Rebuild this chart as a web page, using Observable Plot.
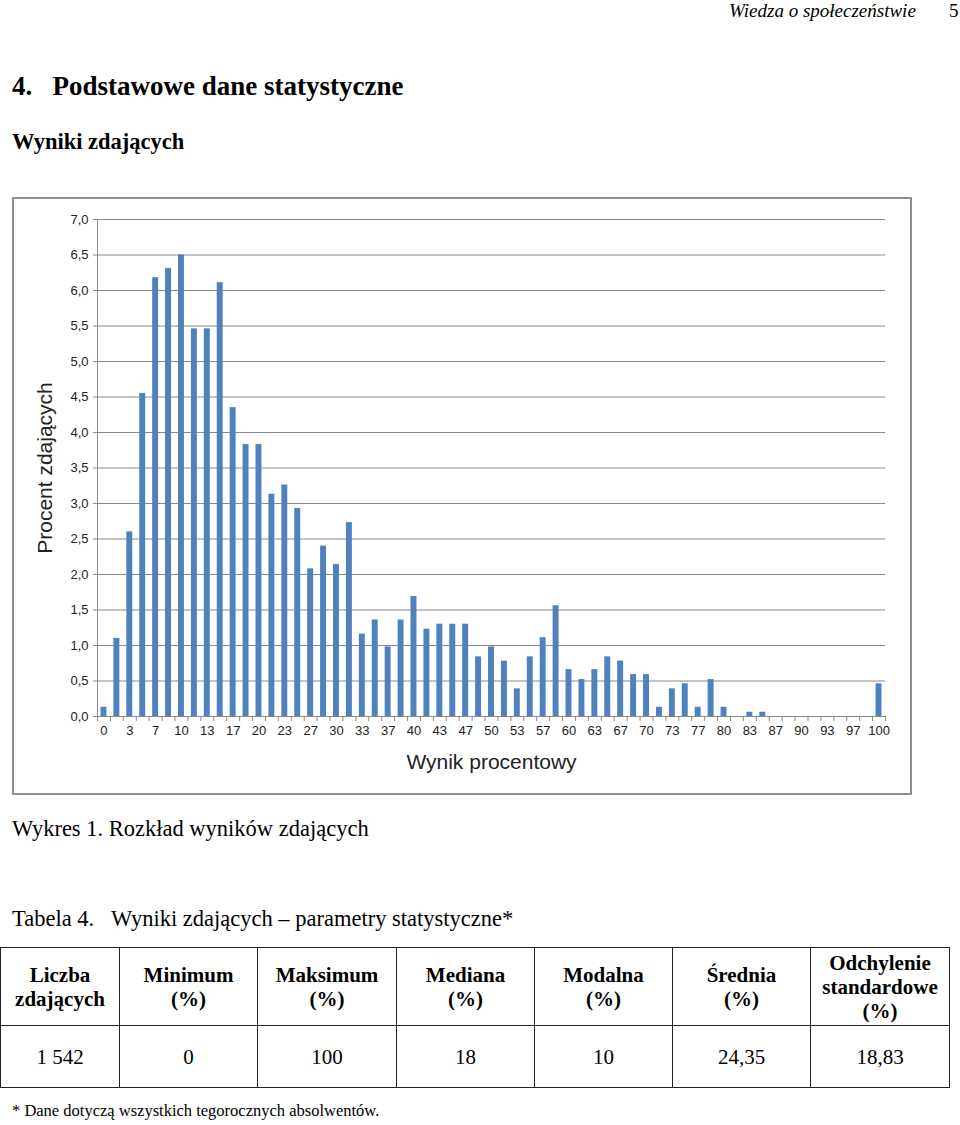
<!DOCTYPE html>
<html>
<head>
<meta charset="utf-8">
<script src="https://cdn.jsdelivr.net/npm/d3@7"></script>
<script src="https://cdn.jsdelivr.net/npm/@observablehq/plot@0.6"></script>
<style>
  body { margin: 0; background: #fff; width: 960px; height: 1125px; position: relative; overflow: hidden; font-family: "Liberation Serif", "Times New Roman", serif; color: #000; }
  .abs { position: absolute; white-space: nowrap; }
  #chartbox { position: absolute; left: 12px; top: 197px; width: 896px; height: 594px; border: 2px solid #8e8e8e; background: #fff; }
  #chartbox svg { position: absolute; left: 0; top: 0; }
  table { position: absolute; left: 0; top: 947px; border-collapse: collapse; table-layout: fixed; width: 949px; }
  td { border: 1.5px solid #222; text-align: center; vertical-align: middle; padding: 0; font-size: 21px; line-height: 24px; }
  tr.h td { height: 77px; font-weight: bold; }
  tr.d td { height: 61px; }
</style>
</head>
<body>
<div class="abs" style="left:729px; top:1px; font-size:19px; line-height:20px; font-style:italic;">Wiedza o społeczeństwie</div>
<div class="abs" style="left:949px; top:1px; font-size:19px; line-height:20px;">5</div>
<div class="abs" style="left:12px; top:71px; font-size:27px; font-weight:bold;">4.&nbsp;&nbsp;&nbsp;Podstawowe dane statystyczne</div>
<div class="abs" style="left:12px; top:129px; font-size:22.5px; font-weight:bold;">Wyniki zdających</div>
<div id="chartbox"></div>
<div class="abs" style="left:12px; top:816px; font-size:22.5px;">Wykres 1. Rozkład wyników zdających</div>
<div class="abs" style="left:12px; top:906px; font-size:22.5px;">Tabela 4.&nbsp;&nbsp;&nbsp;Wyniki zdających – parametry statystyczne*</div>
<table id="tbl"></table>
<div class="abs" style="left:12px; top:1101px; font-size:16.5px;">* Dane dotyczą wszystkich tegorocznych absolwentów.</div>
<script>
// ---- Chart data ----
const scores = [0,2,3,5,7,8,10,12,13,15,17,18,20,22,23,25,27,28,30,32,33,35,37,38,40,42,43,45,47,48,50,52,53,55,57,58,60,62,63,65,67,68,70,72,73,75,77,78,80,82,83,85,87,88,90,92,93,95,97,98,100];
const percents = [0.13,1.10,2.60,4.55,6.18,6.31,6.50,5.46,5.46,6.11,
                  4.35,3.83,3.83,3.13,3.26,2.93,2.08,2.40,2.14,2.73,
                  1.16,1.36,0.98,1.36,1.69,1.23,1.30,1.30,1.30,0.84,
                  0.98,0.78,0.39,0.84,1.11,1.56,0.66,0.52,0.66,0.84,
                  0.78,0.59,0.59,0.13,0.39,0.46,0.13,0.52,0.13,0,
                  0.06,0.06,0,0,0,0,0,0,0,0,0.46];
const xTickLabels = [0,3,7,10,13,17,20,23,27,30,33,37,40,43,47,50,53,57,60,63,67,70,73,77,80,83,87,90,93,97,100];
const yTicks = [0,0.5,1,1.5,2,2.5,3,3.5,4,4.5,5,5.5,6,6.5,7];
const xTitle = "Wynik procentowy";
const yTitle = "Procent zdających";

// ---- Table data ----
const tableHeaders = ["Liczba<br>zdających","Minimum<br>(%)","Maksimum<br>(%)","Mediana<br>(%)","Modalna<br>(%)","Średnia<br>(%)","Odchylenie<br>standardowe<br>(%)"];
const tableValues = ["1 542","0","100","18","10","24,35","18,83"];
const colWidths = [119,138,139,138,138,138,139];

const data = scores.map((s, i) => ({score: String(s), pct: percents[i]}));

const W = 896, H = 594;
const mL = 83, mR = 25, mT = 20, mB = 77;
const step = (W - mL - mR) / scores.length;
const fmt = d => d.toFixed(1).replace(".", ",");

const chart = Plot.plot({
  width: W, height: H,
  marginLeft: mL, marginRight: mR, marginTop: mT, marginBottom: mB,
  style: {fontFamily: "'Liberation Sans', Arial, sans-serif", fontSize: "13px", color: "#222", background: "transparent"},
  x: {domain: scores.map(String), paddingInner: 0.54, paddingOuter: 0.27},
  y: {domain: [0, 7]},
  marks: [
    Plot.ruleY(yTicks, {y: d => d, stroke: "#8a8a8a", strokeWidth: 1, insetLeft: -4}),
    Plot.barY(data, {x: "score", y: "pct", fill: "#4f81bd"}),
    Plot.ruleX(scores.map(String), {x: d => d, dx: -step / 2, stroke: "#8a8a8a", insetTop: H - mT - mB, insetBottom: -5}),
    Plot.ruleX([String(scores[scores.length - 1])], {x: d => d, dx: step / 2, stroke: "#8a8a8a", insetTop: H - mT - mB, insetBottom: -5}),
    Plot.axisY({ticks: yTicks, tickSize: 0, tickPadding: 9, tickFormat: fmt, label: null, fill: "#222"}),
    Plot.axisX({ticks: xTickLabels.map(String), tickSize: 0, tickPadding: 9, label: null, fill: "#222"}),
    Plot.ruleX([scores[0].toString()], {x: d => d, dx: -step / 2, stroke: "#8a8a8a"}),
    Plot.text([yTitle], {frameAnchor: "left", text: d => d, rotate: -90, textAnchor: "middle", dx: -52, fontSize: 21, fill: "#222"}),
    Plot.text([xTitle], {frameAnchor: "bottom", text: d => d, dy: 52, fontSize: 21, fill: "#222"})
  ]
});
document.getElementById("chartbox").appendChild(chart);

// table
const tbl = document.getElementById("tbl");
const cg = document.createElement("colgroup");
colWidths.forEach(w => { const c = document.createElement("col"); c.style.width = w + "px"; cg.appendChild(c); });
tbl.appendChild(cg);
const trh = document.createElement("tr"); trh.className = "h";
tableHeaders.forEach((h) => { const td = document.createElement("td"); td.innerHTML = h; trh.appendChild(td); });
const trd = document.createElement("tr"); trd.className = "d";
tableValues.forEach((v) => { const td = document.createElement("td"); td.textContent = v; trd.appendChild(td); });
tbl.appendChild(trh); tbl.appendChild(trd);
</script>
</body>
</html>
